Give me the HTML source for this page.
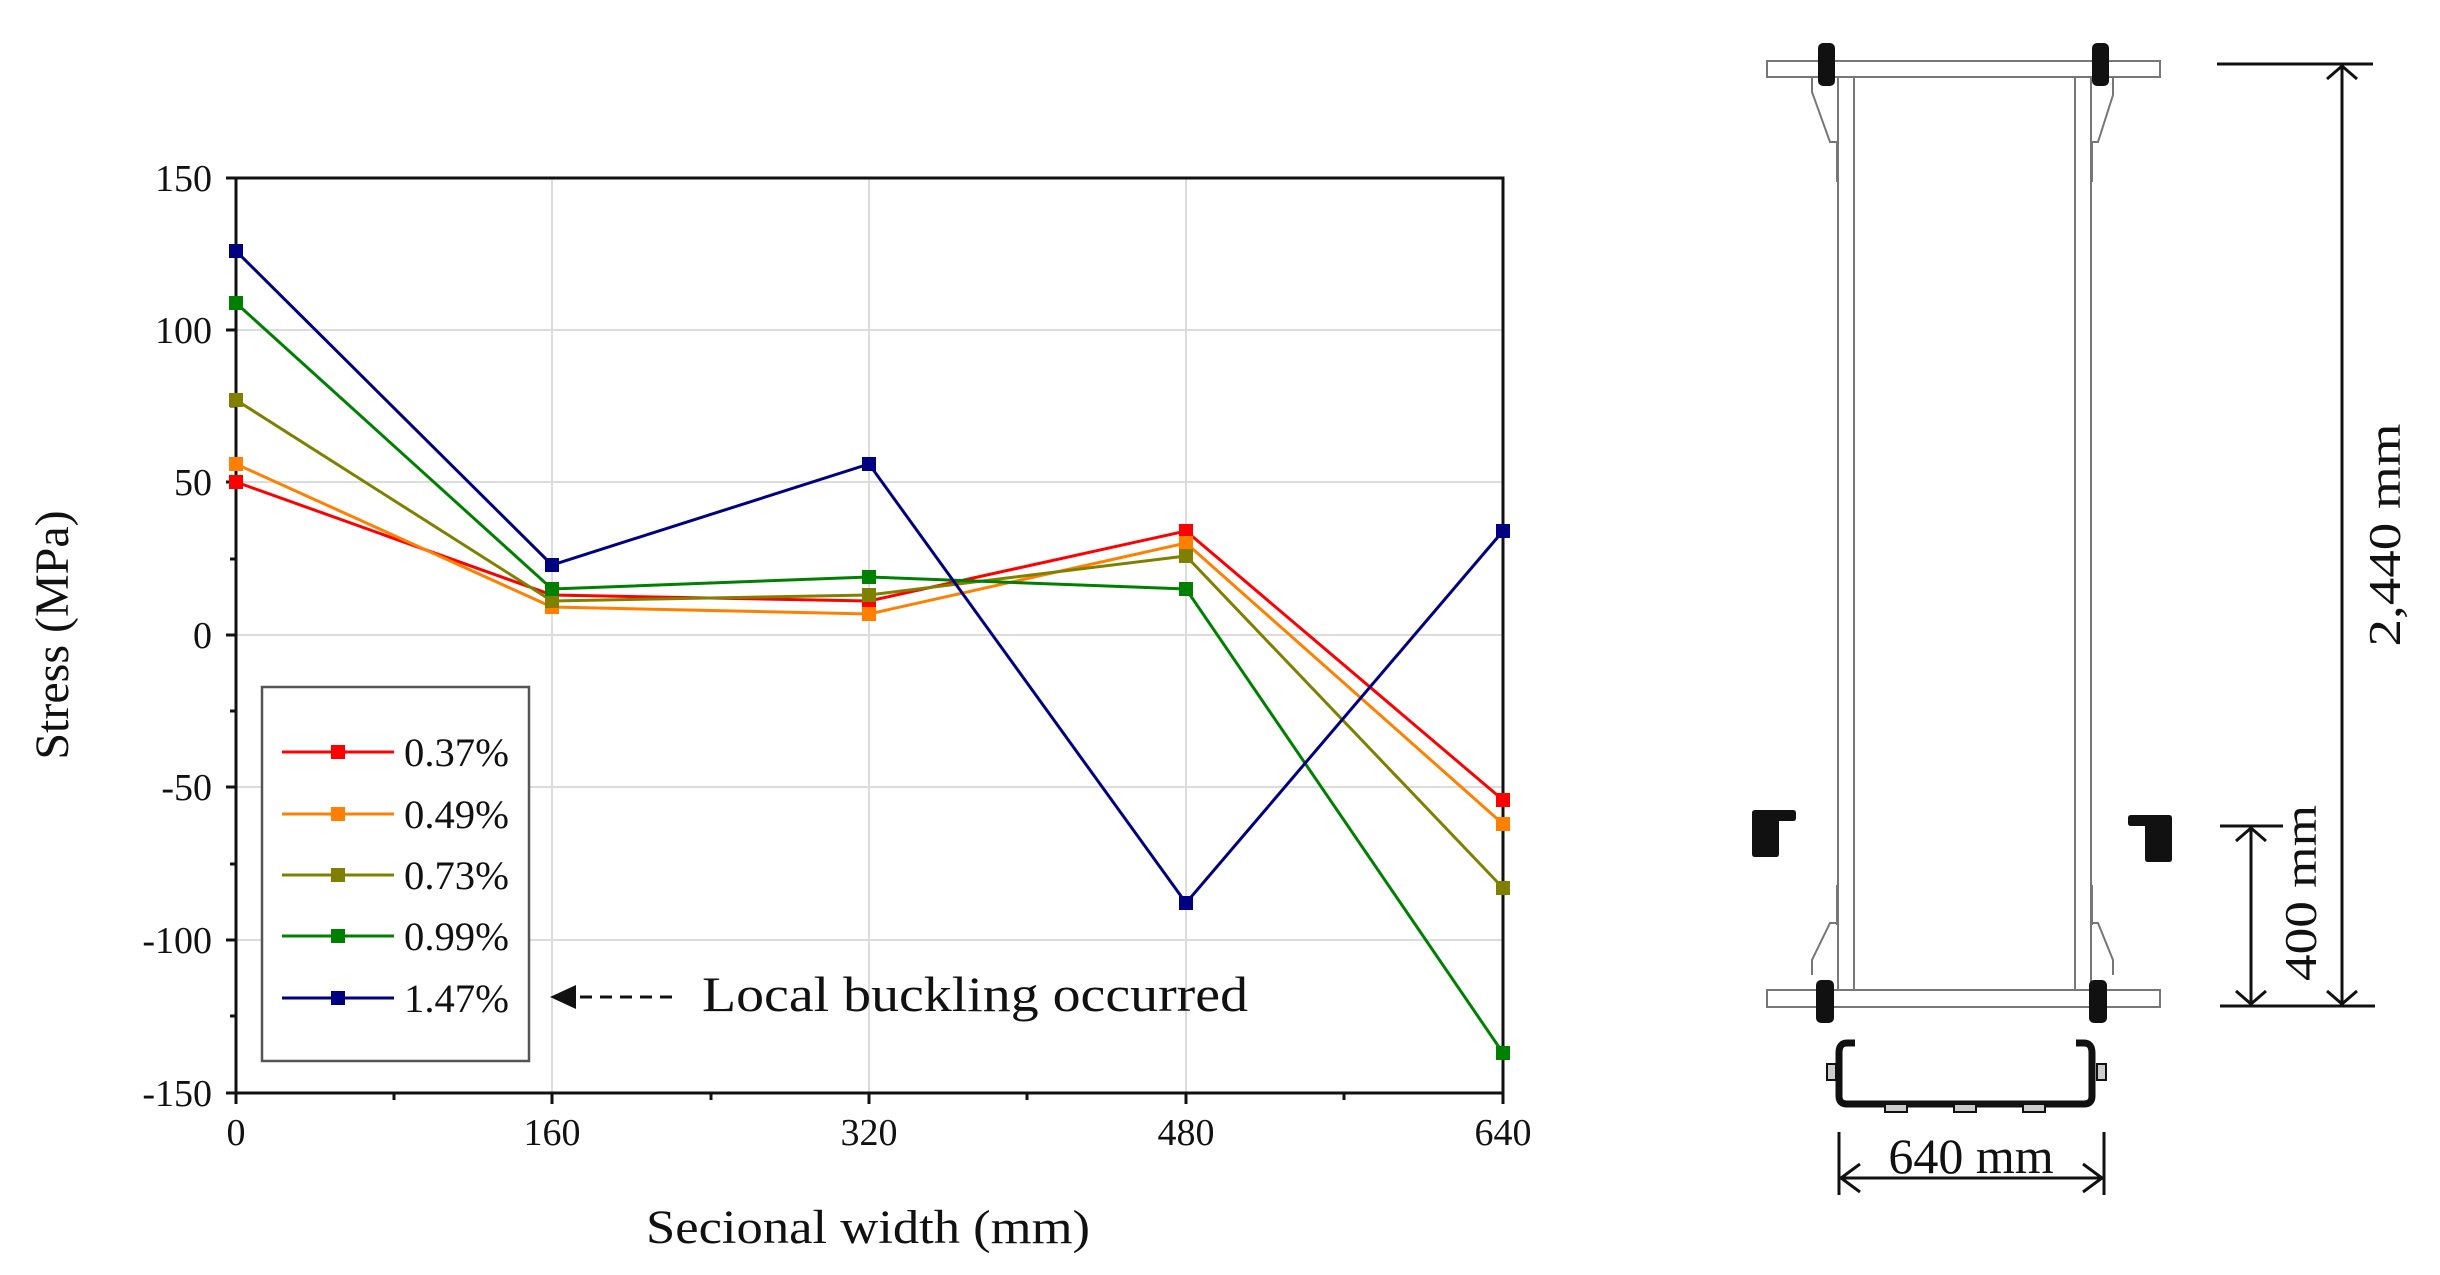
<!DOCTYPE html>
<html><head><meta charset="utf-8"><style>
html,body{margin:0;padding:0;background:#fff;}
svg{display:block;}
text{font-family:"Liberation Serif",serif;fill:#111;}
</style></head><body>
<svg width="2440" height="1275" viewBox="0 0 2440 1275" xmlns="http://www.w3.org/2000/svg">
<!-- grid -->
<g stroke="#dcdcdc" stroke-width="2">
<line x1="552" y1="178" x2="552" y2="1093"/><line x1="869" y1="178" x2="869" y2="1093"/><line x1="1186" y1="178" x2="1186" y2="1093"/>
<line x1="236" y1="330" x2="1503" y2="330"/><line x1="236" y1="482" x2="1503" y2="482"/><line x1="236" y1="635" x2="1503" y2="635"/>
<line x1="236" y1="787" x2="1503" y2="787"/><line x1="236" y1="940" x2="1503" y2="940"/>
</g>
<!-- axes -->
<rect x="236" y="178" width="1267" height="915" fill="none" stroke="#111" stroke-width="3"/>
<g stroke="#111" stroke-width="3">
<line x1="226" y1="178" x2="236" y2="178"/><line x1="226" y1="330" x2="236" y2="330"/><line x1="226" y1="482" x2="236" y2="482"/><line x1="226" y1="635" x2="236" y2="635"/><line x1="226" y1="787" x2="236" y2="787"/><line x1="226" y1="940" x2="236" y2="940"/><line x1="226" y1="1093" x2="236" y2="1093"/>
<line x1="230" y1="254" x2="236" y2="254"/><line x1="230" y1="406" x2="236" y2="406"/><line x1="230" y1="559" x2="236" y2="559"/><line x1="230" y1="711" x2="236" y2="711"/><line x1="230" y1="864" x2="236" y2="864"/><line x1="230" y1="1016" x2="236" y2="1016"/>
<line x1="236" y1="1093" x2="236" y2="1104"/><line x1="552" y1="1093" x2="552" y2="1104"/><line x1="869" y1="1093" x2="869" y2="1104"/><line x1="1186" y1="1093" x2="1186" y2="1104"/><line x1="1503" y1="1093" x2="1503" y2="1104"/>
<line x1="394" y1="1093" x2="394" y2="1100"/><line x1="711" y1="1093" x2="711" y2="1100"/><line x1="1027" y1="1093" x2="1027" y2="1100"/><line x1="1344" y1="1093" x2="1344" y2="1100"/>
</g>
<g font-size="38" text-anchor="end">
<text x="212" y="191">150</text><text x="212" y="343">100</text><text x="212" y="495">50</text><text x="212" y="648">0</text><text x="212" y="800">-50</text><text x="212" y="953">-100</text><text x="212" y="1106">-150</text>
</g>
<g font-size="38" text-anchor="middle">
<text x="236" y="1145">0</text><text x="552" y="1145">160</text><text x="869" y="1145">320</text><text x="1186" y="1145">480</text><text x="1503" y="1145">640</text>
</g>
<text x="868" y="1243" font-size="48" text-anchor="middle" textLength="444" lengthAdjust="spacingAndGlyphs">Secional width (mm)</text>
<text transform="translate(68,635) rotate(-90)" font-size="48" text-anchor="middle">Stress (MPa)</text>
<!-- series: y = 635 - v*3.05 ; x = 236 + i*316.75 -->
<g fill="none" stroke-width="3">
<polyline stroke="#ff0000" points="236,482 552,595 869,601 1186,531 1503,800"/>
<polyline stroke="#ff8000" points="236,464 552,607 869,614 1186,543 1503,824"/>
<polyline stroke="#808000" points="236,400 552,601 869,595 1186,556 1503,888"/>
<polyline stroke="#008000" points="236,303 552,589 869,577 1186,589 1503,1053"/>
<polyline stroke="#000080" points="236,251 552,565 869,464 1186,903 1503,531"/>
</g>
<g>
<g fill="#ff0000"><rect x="229" y="475" width="14" height="14"/><rect x="545" y="588" width="14" height="14"/><rect x="862" y="594" width="14" height="14"/><rect x="1179" y="524" width="14" height="14"/><rect x="1496" y="793" width="14" height="14"/></g>
<g fill="#ff8000"><rect x="229" y="457" width="14" height="14"/><rect x="545" y="600" width="14" height="14"/><rect x="862" y="607" width="14" height="14"/><rect x="1179" y="536" width="14" height="14"/><rect x="1496" y="817" width="14" height="14"/></g>
<g fill="#808000"><rect x="229" y="393" width="14" height="14"/><rect x="545" y="594" width="14" height="14"/><rect x="862" y="588" width="14" height="14"/><rect x="1179" y="549" width="14" height="14"/><rect x="1496" y="881" width="14" height="14"/></g>
<g fill="#008000"><rect x="229" y="296" width="14" height="14"/><rect x="545" y="582" width="14" height="14"/><rect x="862" y="570" width="14" height="14"/><rect x="1179" y="582" width="14" height="14"/><rect x="1496" y="1046" width="14" height="14"/></g>
<g fill="#000080"><rect x="229" y="244" width="14" height="14"/><rect x="545" y="558" width="14" height="14"/><rect x="862" y="457" width="14" height="14"/><rect x="1179" y="896" width="14" height="14"/><rect x="1496" y="524" width="14" height="14"/></g>
</g>
<!-- legend -->
<rect x="262" y="687" width="267" height="374" fill="#fff" stroke="#555" stroke-width="2.5"/>
<g stroke-width="3">
<line x1="282" y1="752" x2="394" y2="752" stroke="#ff0000"/><rect x="331" y="745" width="14" height="14" fill="#ff0000"/>
<line x1="282" y1="814" x2="394" y2="814" stroke="#ff8000"/><rect x="331" y="807" width="14" height="14" fill="#ff8000"/>
<line x1="282" y1="875" x2="394" y2="875" stroke="#808000"/><rect x="331" y="868" width="14" height="14" fill="#808000"/>
<line x1="282" y1="936" x2="394" y2="936" stroke="#008000"/><rect x="331" y="929" width="14" height="14" fill="#008000"/>
<line x1="282" y1="998" x2="394" y2="998" stroke="#000080"/><rect x="331" y="991" width="14" height="14" fill="#000080"/>
</g>
<g font-size="40">
<text x="404" y="766" textLength="105" lengthAdjust="spacingAndGlyphs">0.37%</text>
<text x="404" y="828" textLength="105" lengthAdjust="spacingAndGlyphs">0.49%</text>
<text x="404" y="889" textLength="105" lengthAdjust="spacingAndGlyphs">0.73%</text>
<text x="404" y="950" textLength="105" lengthAdjust="spacingAndGlyphs">0.99%</text>
<text x="404" y="1012" textLength="105" lengthAdjust="spacingAndGlyphs">1.47%</text>
</g>
<polygon points="550,997 576,985 576,1009" fill="#111"/>
<line x1="580" y1="997" x2="672" y2="997" stroke="#111" stroke-width="3" stroke-dasharray="12,8"/>
<text x="702" y="1011" font-size="50" textLength="546" lengthAdjust="spacingAndGlyphs">Local buckling occurred</text>

<!-- right diagram -->
<g fill="none" stroke="#777" stroke-width="2">
<rect x="1767" y="61" width="393" height="16"/>
<rect x="1767" y="990" width="393" height="17"/>
<line x1="1838" y1="77" x2="1838" y2="990"/><line x1="1854" y1="77" x2="1854" y2="990"/>
<line x1="2075" y1="77" x2="2075" y2="990"/><line x1="2091" y1="77" x2="2091" y2="990"/>
<polyline points="1812,77 1812,92 1830,142 1838,142"/>
<polyline points="2113,77 2113,95 2098,142 2091,142"/>
<polyline points="1812,975 1812,960 1830,923 1838,923"/>
<polyline points="2113,975 2113,960 2098,923 2091,923"/>
</g>
<g fill="#777"><rect x="1836" y="142" width="2" height="40"/><rect x="2091" y="142" width="2" height="40"/><rect x="1836" y="885" width="2" height="40"/><rect x="2091" y="885" width="2" height="40"/></g>
<g fill="#111">
<rect x="1818" y="43" width="17" height="43" rx="5"/><rect x="2092" y="43" width="17" height="43" rx="5"/>
<rect x="1816" y="980" width="18" height="43" rx="5"/><rect x="2089" y="980" width="18" height="43" rx="5"/>
<path d="M1752,813 q0,-3 3,-3 h38 q3,0 3,3 v5 q0,3 -3,3 h-14 v33 q0,3 -3,3 h-21 q-3,0 -3,-3 z"/>
<path d="M2172,818 q0,-3 -3,-3 h-38 q-3,0 -3,3 v5 q0,3 3,3 h14 v33 q0,3 3,3 h21 q3,0 3,-3 z"/>
</g>
<!-- channel -->
<path d="M1855,1043 h-8 q-8,0 -8,10 v43 q0,8 8,8 h237 q8,0 8,-8 v-43 q0,-10 -8,-10 h-8" fill="none" stroke="#111" stroke-width="7"/>
<g fill="#ccc" stroke="#111" stroke-width="2">
<rect x="1827" y="1064" width="9" height="16"/><rect x="2097" y="1064" width="9" height="16"/>
<rect x="1885" y="1104" width="22" height="8"/><rect x="1954" y="1104" width="22" height="8"/><rect x="2023" y="1104" width="22" height="8"/>
</g>
<g stroke="#111" stroke-width="3" fill="none">
<line x1="1839" y1="1132" x2="1839" y2="1195"/><line x1="2104" y1="1132" x2="2104" y2="1195"/>
<line x1="1841" y1="1178" x2="2102" y2="1178"/>
<polyline points="1860,1164 1841,1178 1860,1192"/><polyline points="2083,1164 2102,1178 2083,1192"/>
<line x1="2217" y1="64" x2="2373" y2="64"/><line x1="2220" y1="1006" x2="2375" y2="1006"/>
<line x1="2342" y1="66" x2="2342" y2="1004"/>
<polyline points="2327,79 2342,66 2357,79"/><polyline points="2327,991 2342,1004 2357,991"/>
<line x1="2220" y1="826" x2="2283" y2="826"/>
<line x1="2251" y1="828" x2="2251" y2="1004"/>
<polyline points="2236,841 2251,828 2266,841"/><polyline points="2236,991 2251,1004 2266,991"/>
</g>
<text x="1971" y="1173" font-size="50" text-anchor="middle">640 mm</text>
<text transform="translate(2400,535) rotate(-90)" font-size="46" text-anchor="middle" textLength="223" lengthAdjust="spacingAndGlyphs">2,440 mm</text>
<text transform="translate(2316,893) rotate(-90)" font-size="46" text-anchor="middle" textLength="176" lengthAdjust="spacingAndGlyphs">400 mm</text>
</svg>
</body></html>
